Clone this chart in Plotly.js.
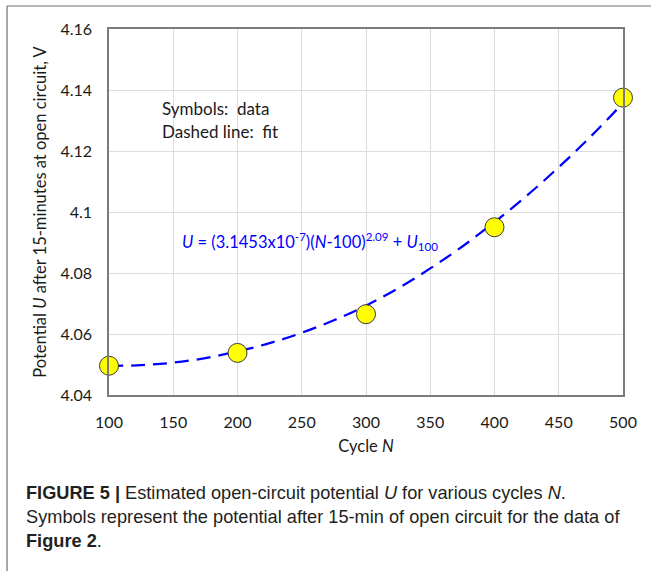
<!DOCTYPE html>
<html>
<head>
<meta charset="utf-8">
<script src="https://cdn.plot.ly/plotly-3.0.1.min.js"></script>
<style>
  html, body { margin: 0; padding: 0; background: #ffffff; }
  #chart { width: 651px; height: 571px; }
</style>
</head>
<body>
<div id="chart"></div>
<script>
// Measured data (symbols)
var cycles = [100, 200, 300, 400, 500];
var potential = [4.0496, 4.0538, 4.0665, 4.0950, 4.1375];

// Dashed fit line
var fitCycles = [100, 125, 150, 175, 200, 225, 250, 275, 300, 325, 350, 375, 400, 425, 450, 475, 500];
var fitPotential = [4.0495, 4.0498, 4.0506, 4.0521, 4.0543, 4.0570, 4.0604, 4.0645, 4.0693, 4.0750, 4.0815, 4.0887, 4.0967, 4.1053, 4.1147, 4.1248, 4.1357];

// Tick labels
var xTicks = [100, 150, 200, 250, 300, 350, 400, 450, 500];
var yTicks = [4.04, 4.06, 4.08, 4.1, 4.12, 4.14, 4.16];
var yTickText = ['4.04', '4.06', '4.08', '4.1', '4.12', '4.14', '4.16'];

// Caption lines
var captionLines = [
  '<b>FIGURE 5 |</b> Estimated open-circuit potential <i>U</i> for various cycles <i>N</i>.',
  'Symbols represent the potential after 15-min of open circuit for the data of',
  '<b>Figure 2</b>.'
];

var chartFont = 'Lato, "Open Sans", sans-serif';
var capFont = '"Liberation Sans", Arial, sans-serif';

var traces = [
  {
    x: fitCycles, y: fitPotential, type: 'scatter', mode: 'lines',
    line: { color: 'rgb(0,0,255)', width: 2.25, dash: '14px,8px', shape: 'spline' },
    hoverinfo: 'skip', showlegend: false, cliponaxis: false
  },
  {
    x: cycles, y: potential, type: 'scatter', mode: 'markers',
    marker: { color: '#ffff00', size: 19, line: { color: '#3a3a3a', width: 1 } },
    showlegend: false, cliponaxis: false
  }
];

var annotations = [
  { xref: 'paper', yref: 'paper', x: 0.1, y: 0.784, xanchor: 'left', yanchor: 'middle',
    text: 'Symbols:  data', showarrow: false, font: { family: chartFont, size: 17, color: '#1a1a1a' } },
  { xref: 'paper', yref: 'paper', x: 0.1, y: 0.719, xanchor: 'left', yanchor: 'middle',
    text: 'Dashed line:  fit', showarrow: false, font: { family: chartFont, size: 17, color: '#1a1a1a' } },
  { xref: 'paper', yref: 'paper', x: 0.138, y: 0.42, xanchor: 'left', yanchor: 'middle',
    text: '<i>U</i> = (3.1453x10<sup>-7</sup>)(<i>N</i>-100)<sup>2.09</sup> + <i>U</i><sub>100</sub>',
    showarrow: false, font: { family: chartFont, size: 16.5, color: 'rgb(0,0,255)' } }
];
var capY = [-0.268, -0.333, -0.399];
captionLines.forEach(function (t, i) {
  annotations.push({ xref: 'paper', yref: 'paper', x: -0.1653, y: capY[i], xanchor: 'left', yanchor: 'middle',
    text: t, showarrow: false, font: { family: capFont, size: 18.2, color: '#231f20' } });
});

var layout = {
  width: 651, height: 571,
  margin: { l: 109, r: 28, t: 29, b: 176 },
  paper_bgcolor: '#ffffff', plot_bgcolor: '#ffffff',
  font: { family: chartFont, size: 16, color: '#1a1a1a' },
  showlegend: false,
  xaxis: {
    range: [100, 500], tickvals: xTicks, ticktext: xTicks.map(String),
    showgrid: true, gridcolor: '#dcdcdc', gridwidth: 1,
    zeroline: false, showline: true, linecolor: '#7a7a7a', linewidth: 1.5, mirror: true,
    ticks: 'outside', ticklen: 12, tickcolor: 'rgba(0,0,0,0)',
    tickfont: { family: chartFont, size: 16, color: '#1a1a1a' },
    title: { text: 'Cycle <i>N</i>', font: { family: chartFont, size: 16.5, color: '#1a1a1a' }, standoff: 10 }
  },
  yaxis: {
    range: [4.04, 4.16], tickvals: yTicks, ticktext: yTickText,
    showgrid: true, gridcolor: '#dcdcdc', gridwidth: 1,
    zeroline: false, showline: true, linecolor: '#7a7a7a', linewidth: 1.5, mirror: true,
    ticks: 'outside', ticklen: 12, tickcolor: 'rgba(0,0,0,0)',
    tickfont: { family: chartFont, size: 16, color: '#1a1a1a' },
    title: { text: 'Potential <i>U</i> after 15-minutes at open circuit, V', font: { family: chartFont, size: 16.5, color: '#1a1a1a' }, standoff: 10 }
  },
  shapes: [
    { type: 'line', xref: 'paper', yref: 'paper', x0: -0.1984, x1: 1.1, y0: 1.0628, y1: 1.0628,
      line: { color: '#6e6e6e', width: 1.2 } },
    { type: 'line', xref: 'paper', yref: 'paper', x0: -0.1984, x1: -0.1984, y0: 1.0628, y1: -0.5,
      line: { color: '#6e6e6e', width: 1.2 } }
  ],
  annotations: annotations
};

Plotly.newPlot('chart', traces, layout, { displayModeBar: false });
</script>
</body>
</html>
